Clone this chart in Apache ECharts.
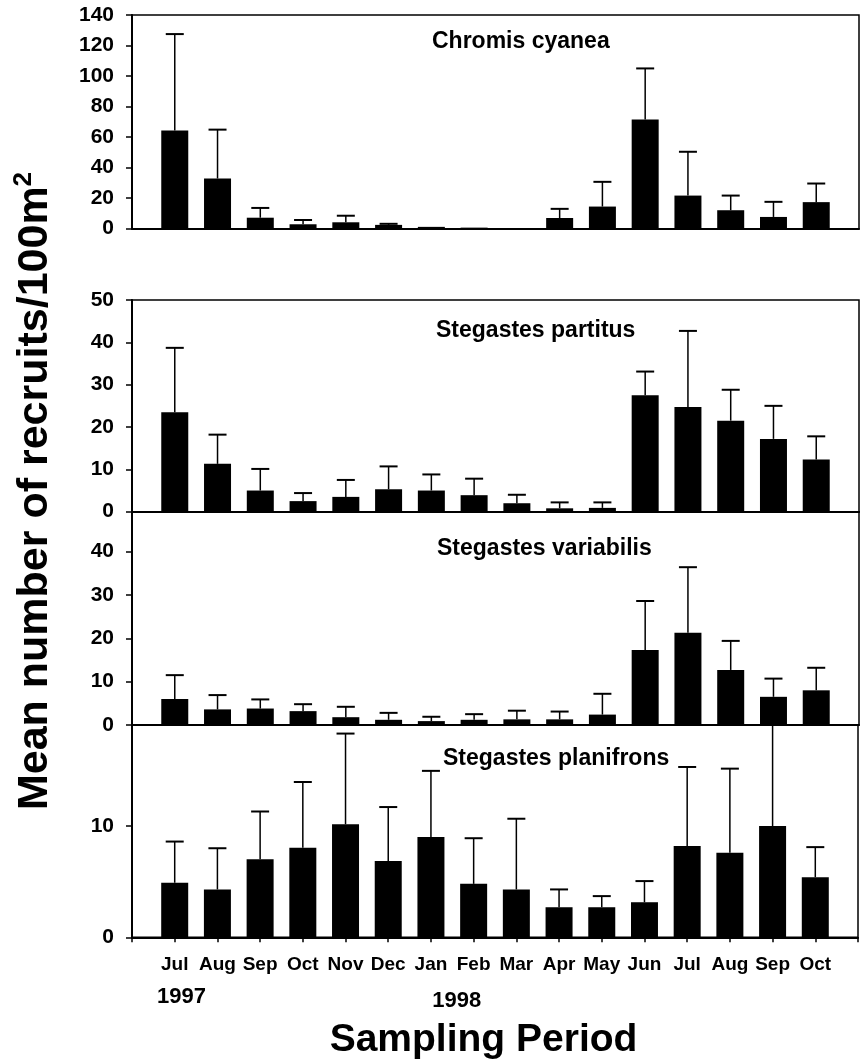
<!DOCTYPE html>
<html>
<head>
<meta charset="utf-8">
<script src="https://cdn.jsdelivr.net/npm/echarts@6/dist/echarts.min.js"></script>
<style>html,body{margin:0;padding:0;background:#fff;}#c{width:861px;height:1063px;}</style>
</head>
<body>
<div id="c"></div>
<script>
const months = ['Jul','Aug','Sep','Oct','Nov','Dec','Jan','Feb','Mar','Apr','May','Jun','Jul','Aug','Sep','Oct'];
const yearLabels = ['1997','1998'];
const speciesNames = ['Chromis cyanea','Stegastes partitus','Stegastes variabilis','Stegastes planifrons'];

const cyaneaMean  = [64.4, 32.9, 7.2, 2.9, 4.2, 2.5, 1.2, 0.7, 0, 7.0, 14.5, 71.5, 21.7, 12.1, 7.7, 17.4];
const cyaneaUpper = [127.5, 64.9, 13.6, 5.7, 8.5, 3.2, 1.2, 0.7, 0, 13.0, 30.7, 105, 50.4, 21.7, 17.6, 29.6];

const partitusMean  = [23.5, 11.3, 5.0, 2.5, 3.5, 5.3, 5.0, 3.9, 2.0, 0.8, 0.9, 27.5, 24.7, 21.5, 17.2, 12.3];
const partitusUpper = [38.7, 18.2, 10.1, 4.4, 7.5, 10.7, 8.8, 7.8, 4.0, 2.2, 2.2, 33.1, 42.7, 28.8, 25.0, 17.8];

const variabilisMean  = [6.0, 3.6, 3.8, 3.2, 1.8, 1.2, 0.9, 1.2, 1.3, 1.3, 2.4, 17.3, 21.3, 12.7, 6.5, 8.0];
const variabilisUpper = [11.5, 6.9, 5.9, 4.8, 4.2, 2.8, 1.9, 2.5, 3.3, 3.1, 7.2, 28.6, 36.4, 19.4, 10.7, 13.2];

const planifronsMean  = [4.9, 4.3, 7.0, 8.05, 10.15, 6.85, 9.0, 4.8, 4.3, 2.7, 2.7, 3.15, 8.2, 7.6, 10.0, 5.4];
const planifronsUpper = [8.6, 8.0, 11.3, 13.95, 18.3, 11.7, 14.95, 8.9, 10.65, 4.3, 3.7, 5.05, 15.3, 15.15, 20, 8.1];

const yMax = [140, 50, 49.2, 19.07];
const yInterval = [20, 10, 10, 10];

const FONT = '"Liberation Sans", Arial, Helvetica, sans-serif';
const panels = [
  {mean: cyaneaMean, upper: cyaneaUpper},
  {mean: partitusMean, upper: partitusUpper},
  {mean: variabilisMean, upper: variabilisUpper},
  {mean: planifronsMean, upper: planifronsUpper}
];
const gridTops = [15, 300, 511.7, 725];
const gridHeights = [213.7, 211.7, 213.3, 212.3];

const grids = [], xAxes = [], yAxes = [], series = [];
panels.forEach((p, i) => {
  const isBottom = i === 3;
  grids.push({left: 132, right: 2, top: gridTops[i], height: gridHeights[i], show: true,
    borderColor: '#000', borderWidth: 1.5, backgroundColor: 'transparent'});
  xAxes.push({type: 'value', gridIndex: i, min: 0, max: 17, interval: 1,
    axisLine: {show: true, onZero: false, lineStyle: {color: '#000', width: 2}},
    axisTick: {show: isBottom, length: 5, lineStyle: {color: '#000', width: 1.5}},
    splitLine: {show: false},
    axisLabel: {show: isBottom, margin: 18, color: '#000', fontSize: 19, fontWeight: 'bold', fontFamily: FONT,
      formatter: v => (v >= 1 && v <= 16) ? months[v - 1] : ''}
  });
  yAxes.push({type: 'value', gridIndex: i, min: 0, max: yMax[i], interval: yInterval[i],
    axisLine: {show: true, lineStyle: {color: '#000', width: 2}},
    axisTick: {show: true, length: 6, lineStyle: {color: '#000', width: 1.5}},
    splitLine: {show: false},
    axisLabel: {margin: 18, color: '#000', fontSize: 21, fontWeight: 'bold', fontFamily: FONT,
      showMaxLabel: i < 2,
      formatter: v => (Math.abs(v % yInterval[i]) < 1e-9) ? String(v) : ''}
  });
  series.push({type: 'bar', xAxisIndex: i, yAxisIndex: i, barWidth: 27,
    itemStyle: {color: '#000'}, silent: true, animation: false,
    data: p.mean.map((v, k) => [k + 1, v])});
  series.push({type: 'custom', xAxisIndex: i, yAxisIndex: i, silent: true, animation: false,
    data: p.mean.map((v, k) => [k + 1, v, p.upper[k]]),
    renderItem: function (params, api) {
      const x = api.value(0), lo = api.value(1), hi = api.value(2);
      if (!(hi > lo)) return;
      const p0 = api.coord([x, lo]);
      const p1 = api.coord([x, hi]);
      const topY = params.coordSys.y;
      const clipped = p1[1] < topY;
      const yTop = clipped ? topY : p1[1];
      const children = [{type: 'line', shape: {x1: p0[0], y1: p0[1], x2: p0[0], y2: yTop},
        style: {stroke: '#000', lineWidth: 1.5}}];
      if (!clipped) children.push({type: 'line', shape: {x1: p1[0] - 9, y1: yTop, x2: p1[0] + 9, y2: yTop},
        style: {stroke: '#000', lineWidth: 2}});
      return {type: 'group', children: children};
    }
  });
});

const titlePos = [[432, 42], [436, 331], [437, 549], [443, 759]];
const graphics = speciesNames.map((n, i) => ({
  type: 'text', x: titlePos[i][0], y: titlePos[i][1],
  style: {text: n, align: 'left', verticalAlign: 'middle', fill: '#000',
    fontSize: 23, fontWeight: 'bold', fontFamily: FONT}
}));
graphics.push({type: 'text', x: 181.5, y: 997,
  style: {text: yearLabels[0], align: 'center', verticalAlign: 'middle', fill: '#000', fontSize: 22, fontWeight: 'bold', fontFamily: FONT}});
graphics.push({type: 'text', x: 456.7, y: 1001,
  style: {text: yearLabels[1], align: 'center', verticalAlign: 'middle', fill: '#000', fontSize: 22, fontWeight: 'bold', fontFamily: FONT}});
graphics.push({type: 'text', x: 483.5, y: 1040,
  style: {text: 'Sampling Period', align: 'center', verticalAlign: 'middle', fill: '#000', fontSize: 39, fontWeight: 'bold', fontFamily: FONT}});
graphics.push({type: 'text', x: 35, y: 491, rotation: Math.PI / 2,
  style: {text: '{a|Mean number of recruits/100m}{s|2}', align: 'center', verticalAlign: 'middle', fill: '#000',
    rich: {a: {fontSize: 43, fontWeight: 'bold', fontFamily: FONT, fill: '#000'},
           s: {fontSize: 26, fontWeight: 'bold', fontFamily: FONT, fill: '#000', verticalAlign: 'top', padding: [0, 0, 22, 0]}}}});

const chart = echarts.init(document.getElementById('c'), null, {renderer: 'canvas'});
chart.setOption({
  animation: false,
  backgroundColor: '#fff',
  grid: grids, xAxis: xAxes, yAxis: yAxes, series: series, graphic: graphics
});
</script>
</body>
</html>
